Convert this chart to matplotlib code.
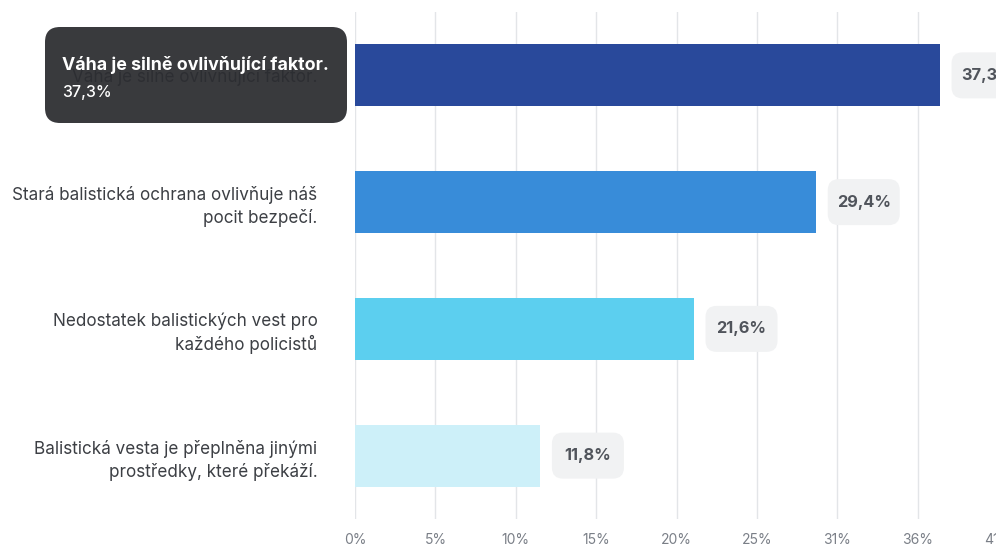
import matplotlib.pyplot as plt
from matplotlib.patches import FancyBboxPatch

plt.rcParams['font.family'] = ['Inter', 'DejaVu Sans']

# data
labels = [
    "Váha je silně ovlivňující faktor.",
    "Stará balistická ochrana ovlivňuje náš\npocit bezpečí.",
    "Nedostatek balistických vest pro\nkaždého policistů",
    "Balistická vesta je přeplněna jinými\nprostředky, které překáží.",
]
values = [37.3, 29.4, 21.6, 11.8]
value_labels = ["37,3%", "29,4%", "21,6%", "11,8%"]
colors = ["#29499b", "#388cd9", "#5ccfef", "#cdf0f9"]
x_max = 41.03
tick_labels = ["0%", "5%", "10%", "15%", "20%", "25%", "31%", "36%", "41%"]

W, H = 996, 549
ax_w, ax_h = 643, 507
fig = plt.figure(figsize=(W / 100, H / 100), dpi=100)
ax = fig.add_axes([355 / W, 30 / H, ax_w / W, ax_h / H])

ypos = list(range(len(values)))
ax.barh(ypos, values, height=0.49, color=colors, zorder=3)
ax.set_ylim(3.5, -0.5)
ax.set_xlim(0, x_max)

ticks = [x_max * i / 8 for i in range(9)]
ax.set_xticks(ticks)
ax.set_xticklabels(tick_labels, color="#7a7f87", fontsize=10)
ax.tick_params(axis="x", length=0, pad=10)
ax.set_yticks(ypos)
ax.set_yticklabels(labels, color="#3c3f44", fontsize=12.3, linespacing=1.35)
ax.tick_params(axis="y", length=0, pad=27)
for t in ax.get_yticklabels():
    t.set_horizontalalignment("right")

ax.grid(axis="x", color="#e3e5e8", lw=1, zorder=0)
for s in ax.spines.values():
    s.set_visible(False)
ax.axvline(0, color="#d5dcef", lw=1.2, zorder=1)

# value labels in rounded boxes (sizes in pixels -> data units)
px_x = ax_w / x_max
px_y = ax_h / 4
box_w, box_h, gap = 72 / px_x, 46 / px_y, 12 / px_x
for y, v, lab in zip(ypos, values, value_labels):
    box = FancyBboxPatch((v + gap, y - box_h / 2), box_w, box_h,
                         boxstyle="round,pad=0,rounding_size=%f" % (11 / px_x),
                         mutation_aspect=px_x / px_y, fc="#f1f2f3", ec="none",
                         clip_on=False, zorder=4)
    ax.add_patch(box)
    ax.text(v + gap + box_w / 2, y, lab, ha="center", va="center",
            fontsize=11.8, fontweight="bold", color="#50545b", zorder=5,
            clip_on=False)

# tooltip overlay
tip = FancyBboxPatch((45 / W, 1 - 123 / H), 302 / W, 96 / H,
                     boxstyle="round,pad=0,rounding_size=%f" % (15 / W),
                     transform=fig.transFigure, fc="#2c2d31", ec="none",
                     alpha=0.94, mutation_aspect=W / H, zorder=10)
fig.patches.append(tip)
fig.text(62 / W, 1 - 65 / H, labels[0], color="white", fontsize=12.8,
         fontweight="bold", va="center", zorder=11)
fig.text(62 / W, 1 - 92 / H, value_labels[0], color="white", fontsize=11.5,
         fontweight="medium", va="center", zorder=11)

fig.savefig("out.png", dpi=100)
